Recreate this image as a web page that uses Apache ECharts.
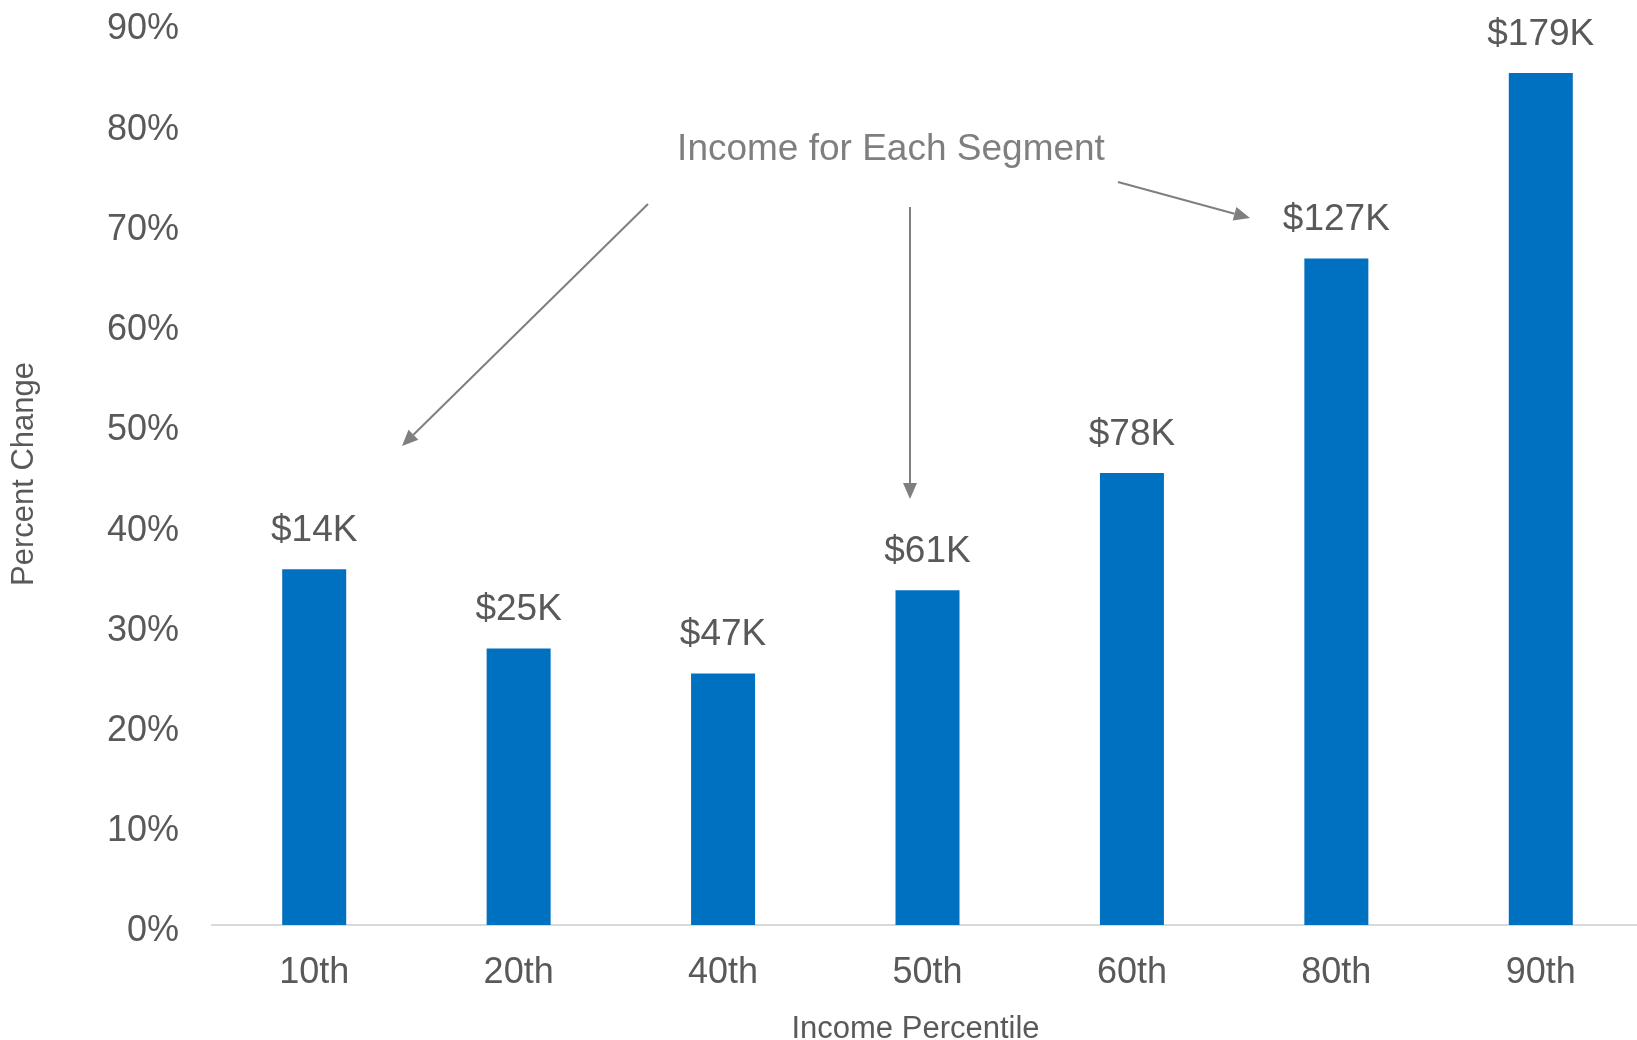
<!DOCTYPE html>
<html>
<head>
<meta charset="utf-8">
<style>
  html, body { margin: 0; padding: 0; background: #ffffff; }
  #chart { width: 1637px; height: 1040px; }
</style>
<script src="https://cdn.jsdelivr.net/npm/echarts@6/dist/echarts.min.js"></script>
</head>
<body>
<div id="chart"></div>
<script>
// Income percentile segments
const categories = ['10th', '20th', '40th', '50th', '60th', '80th', '90th'];
// Percent change per segment
const percentChange = [35.5, 27.6, 25.1, 33.4, 45.1, 66.5, 85.0];
// Income for each segment (shown above bars)
const incomeLabels = ['$14K', '$25K', '$47K', '$61K', '$78K', '$127K', '$179K'];
// Value axis ticks
const yMin = 0, yMax = 90, yStep = 10;

const FONT = '"Liberation Sans", Arial, sans-serif';
const TEXT = '#595959';
const NOTE = '#7f7f7f';

// Line with a filled triangular arrowhead at its end
function arrow(x1, y1, x2, y2) {
  const len = 16, half = 7;
  const dx = x2 - x1, dy = y2 - y1;
  const d = Math.sqrt(dx * dx + dy * dy);
  const ux = dx / d, uy = dy / d;
  const bx = x2 - ux * len, by = y2 - uy * len;
  return [
    { type: 'line', shape: { x1: x1, y1: y1, x2: bx, y2: by },
      style: { stroke: NOTE, lineWidth: 2 }, silent: true },
    { type: 'polygon',
      shape: { points: [[x2, y2], [bx - uy * half, by + ux * half], [bx + uy * half, by - ux * half]] },
      style: { fill: NOTE }, silent: true }
  ];
}

const chart = echarts.init(document.getElementById('chart'), null, { renderer: 'canvas' });

chart.setOption({
  backgroundColor: '#ffffff',
  animation: false,
  textStyle: { fontFamily: FONT },
  grid: { left: 212, right: -6, top: 23, bottom: 115, outerBoundsMode: 'none', containLabel: false },
  xAxis: {
    type: 'category',
    data: categories,
    axisLine: { show: true, lineStyle: { color: '#d9d9d9', width: 2 } },
    axisTick: { show: false },
    axisLabel: { color: TEXT, fontSize: 36, fontFamily: FONT, margin: 30 },
    name: 'Income Percentile',
    nameLocation: 'middle',
    nameGap: 89,
    nameTextStyle: { color: TEXT, fontSize: 31, fontFamily: FONT, padding: [0, 24, 0, 0] }
  },
  yAxis: {
    type: 'value',
    min: yMin,
    max: yMax,
    interval: yStep,
    axisLine: { show: false },
    axisTick: { show: false },
    splitLine: { show: false },
    axisLabel: { color: TEXT, fontSize: 36, fontFamily: FONT, margin: 33,
                 verticalAlign: 'top', lineHeight: 13, formatter: '{value}%' },
    name: 'Percent Change',
    nameLocation: 'middle',
    nameRotate: 90,
    nameGap: 172,
    nameTextStyle: { color: TEXT, fontSize: 31, fontFamily: FONT }
  },
  series: [{
    type: 'bar',
    data: percentChange,
    barWidth: 64,
    itemStyle: { color: '#0070c0' },
    label: {
      show: true,
      position: 'top',
      distance: 20,
      color: TEXT,
      fontSize: 37,
      fontFamily: FONT,
      formatter: function (p) { return incomeLabels[p.dataIndex]; }
    }
  }],
  graphic: [
    { type: 'text', x: 891, y: 150,
      style: { text: 'Income for Each Segment', fill: NOTE, font: '37px ' + FONT,
               textAlign: 'center', textVerticalAlign: 'middle' }, silent: true }
  ].concat(arrow(648, 204, 402, 446), arrow(910, 207, 910, 499), arrow(1118, 182, 1250, 218))
});
</script>
</body>
</html>
